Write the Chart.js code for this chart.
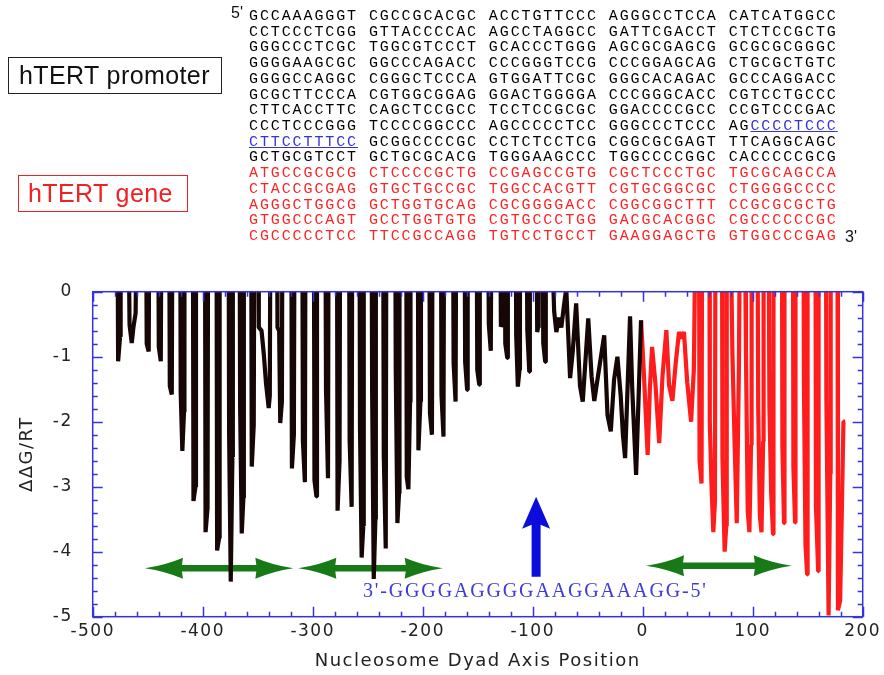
<!DOCTYPE html>
<html>
<head>
<meta charset="utf-8">
<title>hTERT promoter nucleosome map</title>
<script src="https://cdn.jsdelivr.net/npm/chart.js@4.4.1/dist/chart.umd.min.js"></script>
<style>
    html, body { margin: 0; padding: 0; background: #fff; }
    #page { position: relative; width: 884px; height: 675px; overflow: hidden; }
    #chart { position: absolute; left: 0; top: 0; }
    .seq { position: absolute; left: 249px; font: 15px "Liberation Mono", monospace; letter-spacing: 1.9px;
           white-space: pre; line-height: 16px; color: #000; }
    .seq.gene { color: #ff2222; }
    .seq .site { color: #3434d6; text-decoration: underline; }
    .end { position: absolute; font: 16px "Liberation Sans", Arial, sans-serif; color: #111; }
    .box { position: absolute; box-sizing: border-box; font: 25px "Liberation Sans", Arial, sans-serif;
           letter-spacing: 0.4px; line-height: 34px; }
    #promoterBox { left: 8px; top: 57px; width: 214px; height: 37px; border: 1.5px solid #222; color: #111; padding-left: 10px; }
    #geneBox { left: 18px; top: 175px; width: 170px; height: 37px; border: 1.5px solid #ee2222; color: #ee2222; padding-left: 9px; }
</style>
</head>
<body>
<div id="page">
    <canvas id="chart" width="884" height="675"></canvas>
    <div class="box" id="promoterBox">hTERT promoter</div>
    <div class="box" id="geneBox">hTERT gene</div>
    <div class="end" style="left:231px; top:4px;">5'</div>
    <div class="end" style="left:845px; top:228px;">3'</div>
    <div id="seqBlock"></div>
</div>
<script>
(function () {
    "use strict";

    // sequence text, [ ] marks the underlined binding site
    var promoterRows = [
        "GCCAAAGGGT CGCCGCACGC ACCTGTTCCC AGGGCCTCCA CATCATGGCC",
        "CCTCCCTCGG GTTACCCCAC AGCCTAGGCC GATTCGACCT CTCTCCGCTG",
        "GGGCCCTCGC TGGCGTCCCT GCACCCTGGG AGCGCGAGCG GCGCGCGGGC",
        "GGGGAAGCGC GGCCCAGACC CCCGGGTCCG CCCGGAGCAG CTGCGCTGTC",
        "GGGGCCAGGC CGGGCTCCCA GTGGATTCGC GGGCACAGAC GCCCAGGACC",
        "GCGCTTCCCA CGTGGCGGAG GGACTGGGGA CCCGGGCACC CGTCCTGCCC",
        "CTTCACCTTC CAGCTCCGCC TCCTCCGCGC GGACCCCGCC CCGTCCCGAC",
        "CCCTCCCGGG TCCCCGGCCC AGCCCCCTCC GGGCCCTCCC AG[CCCCTCCC]",
        "[CTTCCTTTCC] GCGGCCCCGC CCTCTCCTCG CGGCGCGAGT TTCAGGCAGC",
        "GCTGCGTCCT GCTGCGCACG TGGGAAGCCC TGGCCCCGGC CACCCCCGCG"
    ];
    var geneRows = [
        "ATGCCGCGCG CTCCCCGCTG CCGAGCCGTG CGCTCCCTGC TGCGCAGCCA",
        "CTACCGCGAG GTGCTGCCGC TGGCCACGTT CGTGCGGCGC CTGGGGCCCC",
        "AGGGCTGGCG GCTGGTGCAG CGCGGGGACC CGGCGGCTTT CCGCGCGCTG",
        "GTGGCCCAGT GCCTGGTGTG CGTGCCCTGG GACGCACGGC CGCCCCCCGC",
        "CGCCCCCTCC TTCCGCCAGG TGTCCTGCCT GAAGGAGCTG GTGGCCCGAG"
    ];

    // dyad position (bp) and ddG/RT, promoter part (black); 1.0 = off the top
    var promoterPos = [
        -477.4, -476.9, -475.1, -474.6,
        -467.4, -466.5, -464.5, -463, -461, -460,
        -451.4, -450.9, -449.1, -448.6,
        -440.4, -439.9, -438.1, -437.6,
        -430.4, -429.9, -428.1, -427.6,
        -420.4, -420, -418.5, -417, -416.6,
        -408.9, -408.4, -406.6, -406.1,
        -397.9, -397.4, -395.6, -395.1,
        -387.4, -386.9, -385.1, -384.6,
        -376.4, -376, -374.5, -373, -372.6,
        -366.4, -366, -364.5, -363, -362.6,
        -355.9, -355.4, -353.6, -353.1,
        -349.5, -349, -346.5, -344.5, -342.5, -340, -339, -338.5,
        -332.4, -332, -330.5, -329.5, -328, -327.6,
        -319.4, -318.9, -317.1, -316.6,
        -309.4, -308.9, -307.1, -306.6,
        -298.9, -298.4, -296.6, -296.1,
        -288.4, -287.9, -286.1, -285.6,
        -277.9, -277.4, -275.6, -275.1,
        -266.9, -266.4, -264.6, -264.1,
        -257.4, -257, -255.5, -254, -253.6,
        -246.4, -246, -244.5, -243, -242.6,
        -235.9, -235.4, -233.6, -233.1,
        -224.9, -224.5, -223, -221.5, -221.1,
        -214.9, -214.5, -213, -211.5, -211.1,
        -204.4, -203.9, -202.1, -201.6,
        -193.9, -193.4, -191.6, -191.1,
        -183.4, -182.9, -181.1, -180.6,
        -172.4, -171.9, -170.1, -169.6,
        -161.9, -161.4, -159.6, -159.1,
        -150.9, -150.4, -148.6, -148.1,
        -140.4, -139.9, -138.1, -137.6,
        -129.4, -128.9, -128.1, -127.6,
        -125.4, -124.9, -123.1, -122.6,
        -115.4, -115, -113.5, -112, -111.6,
        -105.4, -104.9, -103.1, -102.6,
        -96.4, -95.9, -95.1, -94.6,
        -90.9, -90.4, -88.6, -88.1,
        -82, -80.5, -78.5, -76, -74, -71.5, -69.5,
        -66, -63.5, -60.5, -57, -54.5, -49.5, -46.5, -44, -42, -35,
        -32, -29, -26, -23, -20, -18, -16, -11.5, -9.5, -6, -1.5
    ];
    var promoterDG = [
        1.0, -1.07, -0.69, 1.0,
        1.0, -0.51, -0.79, -0.55, -0.33, 1.0,
        1.0, -0.8, -0.92, 1.0,
        1.0, -0.85, -1.07, 1.0,
        1.0, -1.45, -1.58, 1.0,
        1.0, -1.55, -2.45, -1.85, 1.0,
        1.0, -3.22, -3.0, 1.0,
        1.0, -3.70, -3.33, 1.0,
        1.0, -3.98, -3.79, 1.0,
        1.0, -2.17, -4.46, -2.54, 1.0,
        1.0, -1.74, -3.72, -3.17, 1.0,
        1.0, -2.69, -2.05, 1.0,
        1.0, -0.55, -0.6, -0.95, -1.4, -1.79, -1.6, 1.0,
        1.0, -0.55, -0.6, -2.02, -1.69, 1.0,
        1.0, -2.72, -2.2, 1.0,
        1.0, -2.3, -2.93, 1.0,
        1.0, -2.9, -3.15, 1.0,
        1.0, -1.5, -2.87, 1.0,
        1.0, -3.37, -2.6, 1.0,
        1.0, -2.3, -3.31, 1.0,
        1.0, -2.1, -4.09, -3.6, 1.0,
        1.0, -1.48, -4.42, -3.5, 1.0,
        1.0, -2.5, -3.95, 1.0,
        1.0, -1.2, -3.56, -3.1, 1.0,
        1.0, -2.85, -3.04, -1.7, 1.0,
        1.0, -2.44, -1.69, 1.0,
        1.0, -1.87, -2.2, 1.0,
        1.0, -1.59, -2.23, 1.0,
        1.0, -1.1, -1.69, 1.0,
        1.0, -1.08, -1.51, 1.0,
        1.0, -1.2, -1.43, 1.0,
        1.0, -0.5, -0.91, 1.0,
        1.0, -0.54, -0.5, 1.0,
        1.0, -0.8, -1.02, 1.0,
        1.0, -0.67, -1.46, -1.2, 1.0,
        1.0, -0.59, -1.23, 1.0,
        1.0, -0.62, -0.55, 1.0,
        1.0, -0.79, -1.08, 1.0,
        0.5, -0.3, -0.62, -0.4, -0.55, -0.2, 0.05,
        -1.33, -0.9, -0.18, -1.45, -1.69, -0.41, -1.3, -1.68, -1.45, -0.67,
        -1.9, -2.15, -1.35, -1.0, -1.6, -2.2, -2.56, -0.38, -1.5, -2.82, -0.44
    ];

    // gene part (red)
    var genePos = [
        -1.5, 1, 4.5, 6.5, 8.5, 11.5, 15, 18, 21.5, 24, 27, 30, 33, 35.5, 37.5, 40.5, 44, 46.5, 48,
        51.2, 51.7, 53.5, 54,
        60.6, 61, 62.5, 64.2, 65.7, 66.1,
        72.1, 72.5, 74.5, 76, 76.4,
        80, 81.5, 83.5, 85.5, 87.5, 88.3,
        93, 93.8, 95.5, 97, 98.5, 99,
        104.4, 105, 106.5, 108, 109.5, 109.9,
        114.5, 115.2, 116.8, 118.5, 118.9,
        126.6, 127, 128.5, 128.9,
        136.6, 137, 138.5, 138.9,
        146.2, 146.6, 148, 149.5, 149.9,
        157.1, 157.5, 159.5, 159.9,
        166.6, 167, 169, 170.5, 170.9,
        177.1, 177.5, 179.5, 181, 182.5, 184
    ];
    var geneDG = [
        -0.44, -1.23, -2.51, -1.5, -0.85, -1.4, -2.33, -1.3, -0.59, -1.44, -1.68, -1.1, -0.62, -0.72, -0.62, -1.4, -2.0, -1.2, 1.0,
        1.0, -2.6, -2.95, 1.0,
        1.0, -2.0, -2.95, -3.7, -3.23, 1.0,
        1.0, -2.56, -4.0, -3.6, 1.0,
        1.0, -0.9, -2.3, -3.56, -1.13, 1.0,
        1.0, -0.85, -3.38, -3.7, -2.36, 1.0,
        1.0, -1.79, -3.44, -3.7, -2.3, 1.0,
        1.0, -1.77, -3.1, -3.73, 1.0,
        1.0, -2.4, -3.56, 1.0,
        1.0, -2.7, -3.55, 1.0,
        1.0, -1.45, -3.9, -4.35, 1.0,
        1.0, -3.3, -4.3, 1.0,
        1.0, -1.66, -4.98, -2.8, 1.0,
        1.0, -4.9, -4.75, -3.4, -2.0, -2.0
    ];

    // annotation spans in data units: [from, to, level]
    var nucleosomeSpans = [
        [-452.5, -317.6, -4.255],
        [-313.1, -181.8, -4.255],
        [3.0, 135.5, -4.215]
    ];
    var sitePos = -96.9;
    var siteArrow = [-4.385, -3.154];
    var siteLabel = "3'-GGGGAGGGGAAGGAAAGG-5'";
    var siteLabelSpan = [-254.3, 57.5];
    var siteLabelLevel = -4.697;

    var xTickStep = 100;
    var yTickStep = 1;

    var FRAME_COLOR = "#3434dc";
    var PROMOTER_COLOR = "#160606";
    var GENE_COLOR = "#ff1c1c";
    var SPAN_COLOR = "#177a17";
    var SITE_COLOR = "#0c0cdc";
    var LABEL_COLOR = "#3c3cd8";

    // sequence text
    var block = document.getElementById("seqBlock");
    var allRows = promoterRows.concat(geneRows);
    allRows.forEach(function (row, i) {
        var div = document.createElement("div");
        div.className = "seq" + (i >= promoterRows.length ? " gene" : "");
        div.style.top = (9 + i * 15.72) + "px";
        div.innerHTML = row.replace("[", '<span class="site">').replace("]", "</span>");
        block.appendChild(div);
    });

    function zip(xs, ys) {
        return xs.map(function (x, i) { return { x: x, y: ys[i] }; });
    }

    function drawSpanArrow(ctx, x1, x2, y) {
        var head = 38, half = 10.5, shaft = 3.3;
        ctx.beginPath();
        ctx.moveTo(x1, y);
        ctx.quadraticCurveTo(x1 + head * 0.55, y - half * 0.3, x1 + head, y - half);
        ctx.lineTo(x1 + head - 1, y - shaft);
        ctx.lineTo(x2 - head + 1, y - shaft);
        ctx.lineTo(x2 - head, y - half);
        ctx.quadraticCurveTo(x2 - head * 0.55, y - half * 0.3, x2, y);
        ctx.quadraticCurveTo(x2 - head * 0.55, y + half * 0.3, x2 - head, y + half);
        ctx.lineTo(x2 - head + 1, y + shaft);
        ctx.lineTo(x1 + head - 1, y + shaft);
        ctx.lineTo(x1 + head, y + half);
        ctx.quadraticCurveTo(x1 + head * 0.55, y + half * 0.3, x1, y);
        ctx.closePath();
        ctx.fill();
    }

    var spanPlugin = {
        id: "spans",
        beforeDatasetsDraw: function (chart) {
            var ctx = chart.ctx, xs = chart.scales.x, ys = chart.scales.y;
            ctx.save();
            ctx.fillStyle = SPAN_COLOR;
            nucleosomeSpans.forEach(function (s) {
                drawSpanArrow(ctx, xs.getPixelForValue(s[0]), xs.getPixelForValue(s[1]), ys.getPixelForValue(s[2]));
            });
            ctx.restore();
        },
        afterDatasetsDraw: function (chart) {
            var ctx = chart.ctx, xs = chart.scales.x, ys = chart.scales.y;
            var x = xs.getPixelForValue(sitePos);
            var yBase = ys.getPixelForValue(siteArrow[0]);
            var yTip = ys.getPixelForValue(siteArrow[1]);
            var headBase = yTip + 30;
            ctx.save();
            ctx.fillStyle = SITE_COLOR;
            ctx.beginPath();
            ctx.moveTo(x, yTip);
            ctx.lineTo(x + 14, headBase + 2);
            ctx.lineTo(x + 4.5, headBase - 2);
            ctx.lineTo(x + 4.5, yBase);
            ctx.lineTo(x - 4.5, yBase);
            ctx.lineTo(x - 4.5, headBase - 2);
            ctx.lineTo(x - 14, headBase + 2);
            ctx.closePath();
            ctx.fill();

            // label, spread across its span
            var x0 = xs.getPixelForValue(siteLabelSpan[0]);
            var x1 = xs.getPixelForValue(siteLabelSpan[1]);
            var y = ys.getPixelForValue(siteLabelLevel);
            ctx.letterSpacing = "0px";
            ctx.font = "20px 'Liberation Serif', serif";
            ctx.fillStyle = LABEL_COLOR;
            ctx.textBaseline = "alphabetic";
            var chars = siteLabel.split("");
            var natural = ctx.measureText(siteLabel).width;
            var gap = (x1 - x0 - natural) / (chars.length - 1);
            var cx = x0;
            chars.forEach(function (c) {
                ctx.fillText(c, cx, y);
                cx += ctx.measureText(c).width + gap;
            });
            ctx.restore();
        }
    };

    var framePlugin = {
        id: "frame",
        beforeDraw: function (chart) {
            chart.ctx.letterSpacing = "1.5px";
        },
        afterDraw: function (chart) {
            var ctx = chart.ctx, a = chart.chartArea, xs = chart.scales.x, ys = chart.scales.y;
            var v, px, len;
            ctx.save();
            ctx.strokeStyle = FRAME_COLOR;
            ctx.lineWidth = 1.5;
            ctx.strokeRect(a.left, a.top, a.right - a.left, a.bottom - a.top);
            ctx.beginPath();
            for (v = xs.min; v <= xs.max; v += 20) {
                px = Math.round(xs.getPixelForValue(v)) + 0.5;
                len = v % 100 === 0 ? 10 : 5;
                ctx.moveTo(px, a.bottom); ctx.lineTo(px, a.bottom - len);
                ctx.moveTo(px, a.top); ctx.lineTo(px, a.top + len);
            }
            for (v = 0; v <= 25; v++) {
                px = Math.round(ys.getPixelForValue(ys.min + v * 0.2)) + 0.5;
                len = v % 5 === 0 ? 10 : 5;
                ctx.moveTo(a.left, px); ctx.lineTo(a.left + len, px);
                ctx.moveTo(a.right, px); ctx.lineTo(a.right - len, px);
            }
            ctx.stroke();
            ctx.restore();
        }
    };

    var tickFont = { family: "'DejaVu Sans', sans-serif", size: 17 };
    var titleFont = { family: "'DejaVu Sans', sans-serif", size: 18 };

    new Chart(document.getElementById("chart"), {
        type: "scatter",
        data: {
            datasets: [
                {
                    data: zip(promoterPos, promoterDG),
                    showLine: true,
                    borderColor: PROMOTER_COLOR,
                    borderWidth: 4.2,
                    borderJoinStyle: "bevel",
                    pointRadius: 0,
                    clip: 0
                },
                {
                    data: zip(genePos, geneDG),
                    showLine: true,
                    borderColor: GENE_COLOR,
                    borderWidth: 4.2,
                    borderJoinStyle: "bevel",
                    pointRadius: 0,
                    clip: 0
                }
            ]
        },
        options: {
            responsive: false,
            animation: false,
            events: [],
            layout: { padding: { left: 0, top: 291.7, right: 21.3, bottom: 0 } },
            plugins: { legend: { display: false }, tooltip: { enabled: false } },
            scales: {
                x: {
                    type: "linear",
                    min: -500,
                    max: 200,
                    afterFit: function (s) { s.height = 58.3; },
                    grid: { display: false, drawTicks: false },
                    border: { display: false },
                    ticks: { stepSize: xTickStep, padding: 5, color: "#222", font: tickFont },
                    title: {
                        display: true,
                        text: "Nucleosome Dyad Axis Position",
                        color: "#222",
                        font: titleFont,
                        padding: { top: 0, bottom: 3 }
                    }
                },
                y: {
                    type: "linear",
                    min: -5,
                    max: 0,
                    afterFit: function (s) { s.width = 92.7; },
                    grid: { display: false, drawTicks: false },
                    border: { display: false },
                    ticks: { stepSize: yTickStep, padding: 20, color: "#222", font: tickFont },
                    title: {
                        display: true,
                        text: "ΔΔG/RT",
                        color: "#222",
                        font: titleFont,
                        padding: { top: 17, bottom: 0 }
                    }
                }
            }
        },
        plugins: [spanPlugin, framePlugin]
    });
})();
</script>
</body>
</html>
